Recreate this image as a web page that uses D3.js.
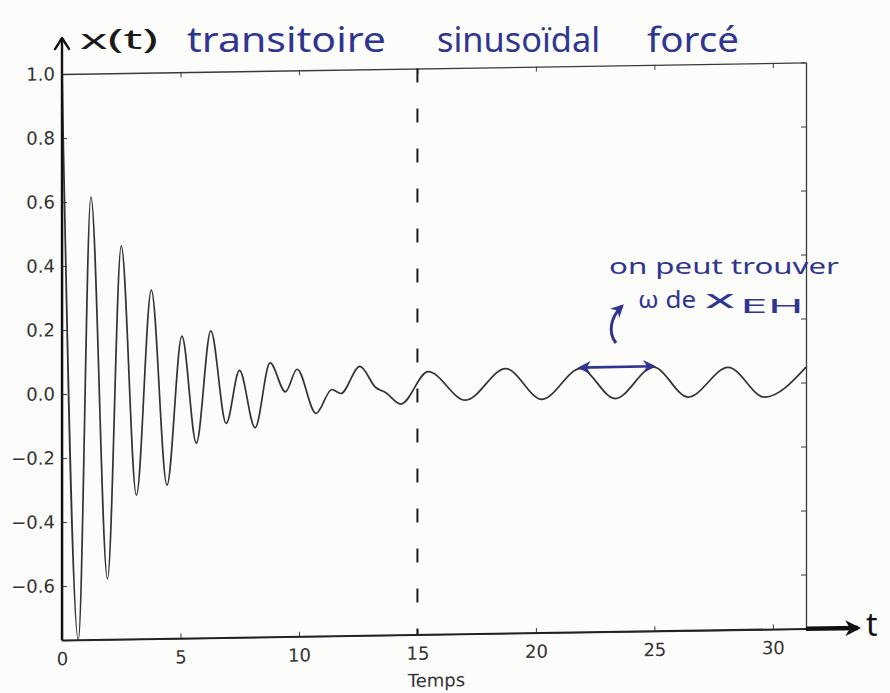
<!DOCTYPE html>
<html>
<head>
<meta charset="utf-8">
<script src="https://cdn.jsdelivr.net/npm/d3@7"></script>
<style>
  body { margin: 0; background: #fcfcfb; }
  svg { display: block; }
  .hand { font-family: "Noto Sans", sans-serif; }
</style>
</head>
<body>
<script>
// values (extrema and shoulders of x(t))
var times  = [0, 0.69, 1.22, 1.92, 2.50, 3.14, 3.77, 4.43, 5.06, 5.67, 6.28, 6.93, 7.49, 8.15, 8.78,
              9.43, 9.92, 10.72, 11.39, 11.77, 12.57, 13.24, 13.67, 14.30, 15.45, 17.03, 18.72,
              20.26, 21.87, 23.35, 24.96, 26.43, 28.11, 29.66, 31.4];
var values = [1.0, -0.77, 0.615, -0.58, 0.46, -0.32, 0.32, -0.29, 0.175, -0.16, 0.19, -0.10, 0.065, -0.115, 0.087,
              -0.004, 0.066, -0.073, 0.001, -0.012, 0.072, 0.005, -0.012, -0.048, 0.052, -0.039, 0.058,
              -0.040, 0.054, -0.041, 0.055, -0.040, 0.051, -0.044, 0.048];
var xTicks = [0, 5, 10, 15, 20, 25, 30];
var yTicks = [1.0, 0.8, 0.6, 0.4, 0.2, 0.0, -0.2, -0.4, -0.6];
var xDomain = [0, 31.4];
var yDomain = [-0.77, 1.0];
var splitTime = 15;               // dashed line: end of the transient
var periodPeaks = [21.87, 24.96]; // the two peaks joined by the hand-drawn arrow

var W = 890, H = 693,
    pLeft = 62, pRight = 806, pTop = 74, pBottom = 640.4,
    ink = '#2f3590';

var series = times.map(function(t, i) { return {t: t, v: values[i]}; });

var x = d3.scaleLinear().domain(xDomain).range([pLeft, pRight]);
var y = d3.scaleLinear().domain(yDomain).range([pBottom, pTop]);

var line = d3.line()
  .x(function(d) { return x(d.t); })
  .y(function(d) { return y(d.v); })
  .curve(d3.curveMonotoneX);

var svg = d3.select('body').append('svg')
  .attr('width', W)
  .attr('height', H);

var defs = svg.append('defs');
function marker(id, color, size) {
  defs.append('marker')
    .attr('id', id)
    .attr('viewBox', '0 0 10 10')
    .attr('refX', 8).attr('refY', 5)
    .attr('markerWidth', size).attr('markerHeight', size)
    .attr('markerUnits', 'userSpaceOnUse')
    .attr('orient', 'auto-start-reverse')
    .append('path')
    .attr('d', 'M0,0 L10,5 L0,10 L3,5 Z')
    .attr('fill', color);
}
marker('headInk', ink, 13);
marker('headBlack', '#111', 16);

// the scanned sheet is slightly tilted: right side sits higher
var root = svg.append('g')
  .attr('transform', 'translate(' + pLeft + ',0) skewY(-0.89) translate(' + (-pLeft) + ',0)');

var fmt = d3.format('.1f');

root.append('g')
  .attr('transform', 'translate(0,' + pBottom + ')')
  .call(d3.axisBottom(x).tickValues(xTicks).tickSize(-5).tickSizeOuter(0).tickPadding(12).tickFormat(d3.format('d')));
root.append('g')
  .attr('transform', 'translate(0,' + pTop + ')')
  .call(d3.axisTop(x).tickValues(xTicks).tickSize(-5).tickSizeOuter(0).tickFormat(''));
root.append('g')
  .attr('transform', 'translate(' + pLeft + ',0)')
  .call(d3.axisLeft(y).tickValues(yTicks).tickSize(-5).tickSizeOuter(0).tickPadding(7).tickFormat(fmt));
root.append('g')
  .attr('transform', 'translate(' + pRight + ',0)')
  .call(d3.axisRight(y).tickValues(yTicks).tickSize(-5).tickSizeOuter(0).tickFormat(''));

root.selectAll('.domain').attr('stroke', '#3a3a3a').attr('stroke-width', 1.3);
root.selectAll('.tick line').attr('stroke', '#3a3a3a').attr('stroke-width', 1);
root.selectAll('.tick text')
  .attr('fill', '#333')
  .style('font-family', '"DejaVu Sans", sans-serif')
  .style('font-size', '18px');

// dashed separator
root.append('line')
  .attr('x1', x(splitTime)).attr('x2', x(splitTime))
  .attr('y1', pTop).attr('y2', pBottom)
  .attr('stroke', '#1d1d1d')
  .attr('stroke-width', 2)
  .attr('stroke-dasharray', '14,26');

// the curve
root.append('path')
  .datum(series)
  .attr('d', line)
  .attr('fill', 'none')
  .attr('stroke', '#333')
  .attr('stroke-width', 1.7);

// hand-drawn axes arrows
root.append('line')
  .attr('x1', pLeft).attr('x2', pLeft)
  .attr('y1', pBottom).attr('y2', 38)
  .attr('stroke', '#111').attr('stroke-width', 2.4);
root.append('path')
  .attr('d', 'M' + (pLeft - 7) + ',49 L' + pLeft + ',38 L' + (pLeft + 7) + ',49')
  .attr('fill', 'none')
  .attr('stroke', '#111').attr('stroke-width', 2.4)
  .attr('stroke-linecap', 'round').attr('stroke-linejoin', 'round');
root.append('line')
  .attr('x1', pRight).attr('x2', 858)
  .attr('y1', pBottom).attr('y2', pBottom)
  .attr('stroke', '#111').attr('stroke-width', 4.5)
  .attr('marker-end', 'url(#headBlack)');
root.append('line')
  .attr('x1', pLeft).attr('x2', pRight)
  .attr('y1', pBottom).attr('y2', pBottom)
  .attr('stroke', '#222').attr('stroke-width', 1.8);

// period arrow between two peaks
var pk = periodPeaks.map(function(t) {
  return series.filter(function(d) { return d.t === t; })[0];
});
root.append('line')
  .attr('x1', x(pk[0].t)).attr('y1', y(pk[0].v) - 1)
  .attr('x2', x(pk[1].t)).attr('y2', y(pk[1].v) - 1)
  .attr('stroke', ink).attr('stroke-width', 2.6)
  .attr('marker-start', 'url(#headInk)')
  .attr('marker-end', 'url(#headInk)');

root.append('text')
  .attr('x', (x(0) + x(30)) / 2 + 19).attr('y', pBottom + 52)
  .attr('text-anchor', 'middle')
  .style('font-family', '"DejaVu Sans", sans-serif')
  .style('font-size', '18px')
  .attr('fill', '#333')
  .text('Temps');

// handwritten notes
svg.append('text').attr('class', 'hand')
  .attr('x', 80).attr('y', 49)
  .attr('textLength', 78).attr('lengthAdjust', 'spacingAndGlyphs')
  .style('font-size', '28px').attr('fill', '#1a1a1a')
  .text('x(t)');

[['transitoire', 187, 199], ['sinusoïdal', 437, 163], ['forcé', 647, 92]].forEach(function(w) {
  svg.append('text').attr('class', 'hand')
    .attr('x', w[1]).attr('y', 52)
    .attr('textLength', w[2]).attr('lengthAdjust', 'spacingAndGlyphs')
    .style('font-size', '34px').attr('fill', ink)
    .text(w[0]);
});

svg.append('text').attr('class', 'hand')
  .attr('x', 609).attr('y', 274)
  .attr('textLength', 230).attr('lengthAdjust', 'spacingAndGlyphs')
  .style('font-size', '21px').attr('fill', ink)
  .text('on peut trouver');

svg.append('text').attr('class', 'hand')
  .attr('x', 638).attr('y', 308)
  .attr('textLength', 58).attr('lengthAdjust', 'spacingAndGlyphs')
  .style('font-size', '24px').attr('fill', ink)
  .text('ω de');
svg.append('text').attr('class', 'hand')
  .attr('x', 705).attr('y', 308)
  .attr('textLength', 30).attr('lengthAdjust', 'spacingAndGlyphs')
  .style('font-size', '26px').attr('fill', ink)
  .text('x');
svg.append('text').attr('class', 'hand')
  .attr('x', 740).attr('y', 313)
  .attr('textLength', 64).attr('lengthAdjust', 'spacingAndGlyphs')
  .style('font-size', '20px').attr('fill', ink)
  .text('EH');

svg.append('path')
  .attr('d', 'M616,343 C608,333 610,318 622,306')
  .attr('fill', 'none')
  .attr('stroke', ink).attr('stroke-width', 3)
  .attr('marker-end', 'url(#headInk)');

svg.append('text').attr('class', 'hand')
  .attr('x', 866).attr('y', 636)
  .style('font-size', '32px').attr('fill', '#111')
  .text('t');
</script>
</body>
</html>
